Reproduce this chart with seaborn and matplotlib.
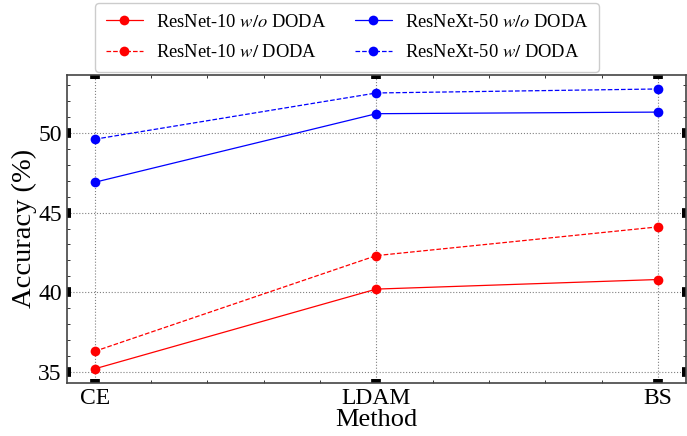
import numpy as np
import matplotlib as mpl
mpl.use('Agg')

import matplotlib.pyplot as plt
from matplotlib.ticker import MultipleLocator
import seaborn as sns
import pandas as pd

# values
methods = ["CE", "LDAM", "BS"]
resnet10_wo = [35.2, 40.2, 40.8]
resnet10_w = [36.3, 42.3, 44.1]
resnext50_wo = [46.9, 51.2, 51.3]
resnext50_w = [49.6, 52.5, 52.75]

series = [
    (r"ResNet-10 $w/o$ DODA", resnet10_wo, "red", "-"),
    (r"ResNet-10 $w/$ DODA", resnet10_w, "red", "--"),
    (r"ResNeXt-50 $w/o$ DODA", resnext50_wo, "blue", "-"),
    (r"ResNeXt-50 $w/$ DODA", resnext50_w, "blue", "--"),
]


def main():
    sns.set_style("white")
    plt.rcParams['font.family'] = 'serif'
    plt.rcParams['font.serif'] = ['Liberation Serif', 'DejaVu Serif']
    plt.rcParams['mathtext.fontset'] = 'stix'
    plt.rcParams['text.color'] = 'black'
    plt.rcParams['axes.labelcolor'] = 'black'
    plt.rcParams['xtick.color'] = 'black'
    plt.rcParams['ytick.color'] = 'black'

    fig = plt.figure(figsize=(6.87, 4.36), dpi=100)
    ax = fig.add_axes([0.097, 0.122, 0.9015, 0.706])

    for label, vals, color, ls in series:
        df = pd.DataFrame({"x": np.arange(len(methods)), "y": vals})
        sns.lineplot(x="x", y="y", data=df, ax=ax, color=color, linestyle=ls,
                     marker="o", markersize=7, markeredgewidth=0, linewidth=0.9,
                     label=label)

    ax.set_xticks(range(len(methods)))
    ax.set_xticklabels(methods)
    ax.xaxis.set_minor_locator(MultipleLocator(0.2))
    ax.yaxis.set_major_locator(MultipleLocator(5))
    ax.yaxis.set_minor_locator(MultipleLocator(1))
    ax.margins(x=0.05, y=0.05)

    ax.tick_params(which='major', direction='in', length=3, width=7, color='black',
                   bottom=True, left=True, top=True, right=True, labelsize=17)
    ax.tick_params(which='minor', direction='in', length=2.5, width=0.7, color='#333333',
                   bottom=True, left=True, top=True, right=True)
    for sp in ax.spines.values():
        sp.set_color('#444444')
        sp.set_linewidth(1.2)

    ax.grid(True, which='major', linestyle=':', color='gray', linewidth=0.8)
    ax.set_xlabel("Method", fontsize=19, labelpad=0)
    ax.set_ylabel("Accuracy (%)", fontsize=20.5, labelpad=1)

    ax.legend(loc='upper center', bbox_to_anchor=(347 / 687, 1 - 3 / 436),
              bbox_transform=fig.transFigure, borderaxespad=0, ncol=2, fontsize=13.3,
              frameon=True, fancybox=True, edgecolor='#cccccc', framealpha=1,
              handlelength=2.0, handletextpad=0.7, columnspacing=1.55,
              borderpad=0.58, labelspacing=0.73)

    fig.savefig('out.png', dpi=100)
    plt.close()


if __name__ == "__main__":
    main()
